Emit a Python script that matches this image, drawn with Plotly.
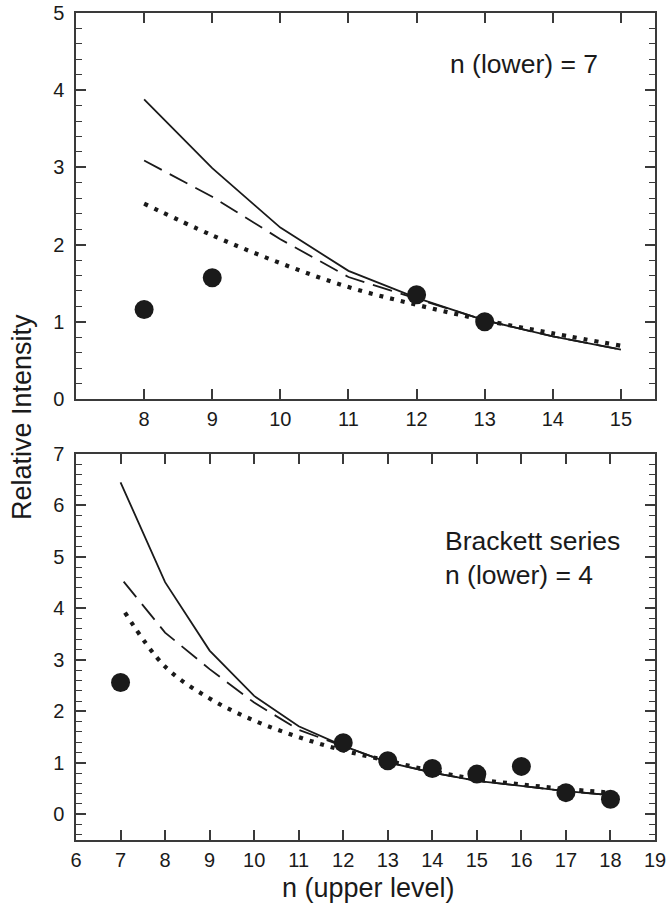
import plotly.graph_objects as go

# ---------- data: top panel, n(lower)=7 ----------
top_x = [8, 9, 10, 11, 12, 13, 14, 15]
top_solid = [3.88, 2.99, 2.22, 1.66, 1.31, 1.02, 0.81, 0.64]
top_dashed = [3.09, 2.62, 2.07, 1.58, 1.30, 1.02, 0.81, 0.64]
top_dotted = [2.53, 2.12, 1.76, 1.45, 1.22, 1.02, 0.85, 0.69]
top_obs_x = [8, 9, 12, 13]
top_obs_y = [1.16, 1.57, 1.35, 1.00]

# ---------- data: bottom panel, Brackett n(lower)=4 ----------
bot_solid_x = [7, 8, 9, 10, 11, 12, 13, 14, 15, 16, 17, 18]
bot_solid = [6.45, 4.51, 3.18, 2.30, 1.71, 1.33, 1.01, 0.81, 0.65, 0.55, 0.45, 0.37]
bot_dashed_x = [7.07, 8, 9, 10, 11, 12, 13, 14, 15, 16, 17, 18]
bot_dashed = [4.52, 3.53, 2.82, 2.17, 1.64, 1.33, 1.01, 0.81, 0.65, 0.55, 0.45, 0.37]
bot_dotted_x = [7.1, 8, 9, 10, 11, 12, 13, 14, 15, 16, 17, 18]
bot_dotted = [3.92, 2.87, 2.25, 1.82, 1.50, 1.24, 1.04, 0.84, 0.68, 0.58, 0.49, 0.42]
bot_obs_x = [7, 12, 13, 14, 15, 16, 17, 18]
bot_obs_y = [2.56, 1.39, 1.04, 0.89, 0.78, 0.93, 0.42, 0.29]

top_xticks = list(range(8, 16))
bot_xticks = list(range(6, 20))

FONT = "Liberation Sans, Arial, Helvetica, sans-serif"
INK = "#1a1a1a"
AX = "#3a3a3a"

fig = go.Figure()

def add_panel(xa, ya, sx, sy, dx, dy, ox, oy, px, py):
    fig.add_trace(go.Scatter(x=sx, y=sy, mode="lines", xaxis=xa, yaxis=ya,
                             line=dict(color=INK, width=1.8), showlegend=False))
    fig.add_trace(go.Scatter(x=dx, y=dy, mode="lines", xaxis=xa, yaxis=ya,
                             line=dict(color=INK, width=1.8, dash="20px,9px"),
                             showlegend=False))
    fig.add_trace(go.Scatter(x=ox, y=oy, mode="lines", xaxis=xa, yaxis=ya,
                             line=dict(color=INK, width=4.2, dash="4px,7px", shape="spline"),
                             showlegend=False))
    fig.add_trace(go.Scatter(x=px, y=py, mode="markers", xaxis=xa, yaxis=ya,
                             marker=dict(color=INK, size=19, line=dict(width=0)),
                             showlegend=False))

add_panel("x", "y", top_x, top_solid, top_x, top_dashed, top_x, top_dotted,
          top_obs_x, top_obs_y)
add_panel("x2", "y2", bot_solid_x, bot_solid, bot_dashed_x, bot_dashed,
          bot_dotted_x, bot_dotted, bot_obs_x, bot_obs_y)

W, H = 666, 903
xdom = [76 / W, 655 / W]
top_dom = [1 - 399 / H, 1 - 13 / H]
bot_dom = [1 - 840 / H, 1 - 454 / H]

axis_common = dict(showline=True, linecolor=AX, linewidth=1.5, mirror="ticks",
                   ticks="inside", ticklen=10, tickwidth=1.5, tickcolor=AX,
                   showgrid=False, zeroline=False, automargin=False,
                   ticklabeloverflow="allow",
                   tickfont=dict(family=FONT, size=20, color=INK))

fig.update_layout(
    width=W, height=H,
    margin=dict(l=0, r=0, t=0, b=0),
    paper_bgcolor="white", plot_bgcolor="white",
    xaxis=dict(domain=xdom, anchor="y", range=[7, 15.5], tickvals=top_xticks,
               ticklabelstandoff=1, **axis_common),
    yaxis=dict(domain=top_dom, anchor="x", range=[0, 5], dtick=1, tick0=0,
               ticklabelstandoff=6,
               minor=dict(dtick=0.2, tick0=0, ticks="inside", ticklen=6,
                          tickwidth=1.2, tickcolor=AX),
               **axis_common),
    xaxis2=dict(domain=xdom, anchor="y2", range=[6, 19], tickvals=bot_xticks,
                ticklabelstandoff=1, **axis_common),
    yaxis2=dict(domain=bot_dom, anchor="x2", range=[-0.5, 7], dtick=1, tick0=0,
                ticklabelstandoff=6,
                minor=dict(dtick=0.2, tick0=0, ticks="inside", ticklen=6,
                           tickwidth=1.2, tickcolor=AX),
                **axis_common),
    annotations=[
        dict(text="n (lower) = 7", xref="paper", yref="paper",
             x=448 / W, y=1 - 64 / H, xanchor="left", yanchor="middle",
             showarrow=False, font=dict(family=FONT, size=26.5, color=INK)),
        dict(text="Brackett series<br>n (lower) = 4", xref="paper", yref="paper",
             x=443 / W, y=1 - 558 / H, xanchor="left", yanchor="middle", align="left",
             showarrow=False, font=dict(family=FONT, size=26.5, color=INK)),
        dict(text="Relative Intensity", xref="paper", yref="paper",
             x=22 / W, y=1 - 417 / H, xanchor="center", yanchor="middle",
             textangle=-90, showarrow=False,
             font=dict(family=FONT, size=27, color=INK)),
        dict(text="n (upper level)", xref="paper", yref="paper",
             x=368 / W, y=1 - 888 / H, xanchor="center", yanchor="middle",
             showarrow=False, font=dict(family=FONT, size=27, color=INK)),
    ],
)

fig.write_html("out.html", config={"displayModeBar": False},
               post_script="document.body.style.margin='0';document.body.style.padding='0';")
